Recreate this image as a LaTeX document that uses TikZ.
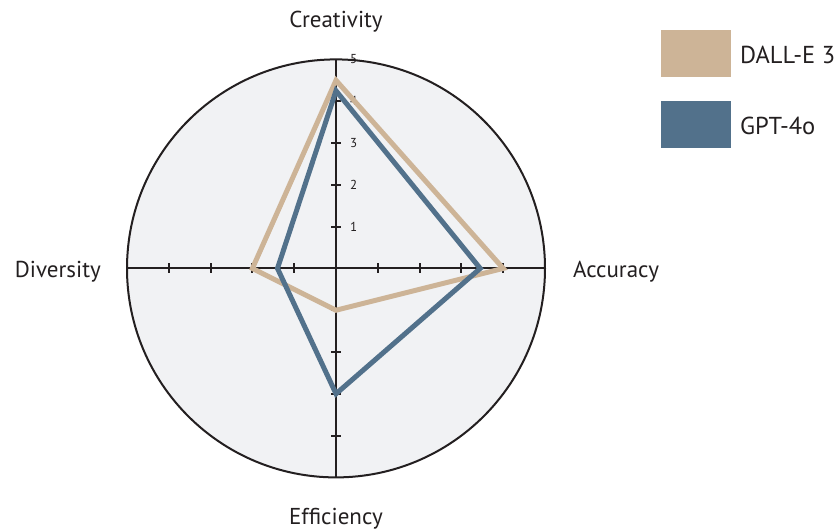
\documentclass[tikz,border=0pt]{standalone}
\usepackage{fontspec}
\setmainfont{PT Sans}
\usetikzlibrary{calc}
\definecolor{dalle}{HTML}{CDB497}
\definecolor{gpt}{HTML}{52718B}
\definecolor{bgc}{HTML}{F1F2F4}
\definecolor{ink}{HTML}{231F20}
\begin{document}
\begin{tikzpicture}[x=1pt,y=-1pt,
  axisline/.style={draw=ink,line width=2pt},
  tickmark/.style={draw=ink,line width=2pt},
  series/.style={line width=5pt,line join=miter},
  axislabel/.style={font=\fontsize{23}{27}\selectfont,text=ink,inner sep=0pt},
  ticklabel/.style={font=\fontsize{13}{15}\selectfont,text=ink,inner sep=0pt,anchor=west},
  legbox/.style={minimum width=70pt,minimum height=47pt,inner sep=0pt,draw=none},
  legtext/.style={font=\fontsize{24.5}{28}\selectfont,text=ink,inner sep=0pt,anchor=base west}]
\useasboundingbox (0,0) rectangle (839,531);
\def\u{41.8}
\coordinate (C) at (336,268.4);
% background circle
\fill[bgc] (C) circle[radius=209];
% axes
\coordinate (T) at (336,59.4);
\coordinate (B) at (336,477.4);
\coordinate (L) at (127,268.4);
\coordinate (R) at (545,268.4);
\draw[axisline] (T) -- (B);
\draw[axisline] (L) -- (R);
% ticks
\foreach \k in {1,2,3,4}{
  \draw[tickmark] ($(C)+(-5,-\k*\u)$) -- ($(C)+(5,-\k*\u)$);
  \draw[tickmark] ($(C)+(-5,\k*\u)$) -- ($(C)+(5,\k*\u)$);
  \draw[tickmark] ($(C)+(-\k*\u,-5)$) -- ($(C)+(-\k*\u,5)$);
  \draw[tickmark] ($(C)+(\k*\u,-5)$) -- ($(C)+(\k*\u,5)$);
}
\foreach \k in {1,2,3,4,5}{
  \node[ticklabel] (tl\k) at ($(C)+(14,-\k*\u)$) {\k};
}
% series
\draw[series,draw=dalle] ($(C)+(0,-4.5*\u)$) -- ($(C)+(4*\u,0)$) -- ($(C)+(0,1*\u)$) -- ($(C)+(-2*\u,0)$) -- cycle;
\draw[series,draw=gpt] ($(C)+(0,-4.25*\u)$) -- ($(C)+(3.45*\u,0)$) -- ($(C)+(0,3.0*\u)$) -- ($(C)+(-1.4*\u,0)$) -- cycle;
% circle outline
\draw[ink,line width=2pt] (C) circle[radius=209];
% axis labels
\node[axislabel,anchor=base] (lc) at (336,27) {Creativity};
\node[axislabel,anchor=base east] (ld) at (101,277) {Diversity};
\node[axislabel,anchor=base west] (la) at (573,277) {Accuracy};
\node[axislabel,anchor=base] (le) at (336,524) {Efficiency};
% legend
\node[legbox,fill=dalle] (k1) at (696,53) {};
\node[legbox,fill=gpt] (k2) at (696,124.5) {};
\node[legtext] (t1) at (740,63) {DALL-E 3};
\node[legtext] (t2) at (740,134) {GPT-4o};
\end{tikzpicture}
\end{document}
